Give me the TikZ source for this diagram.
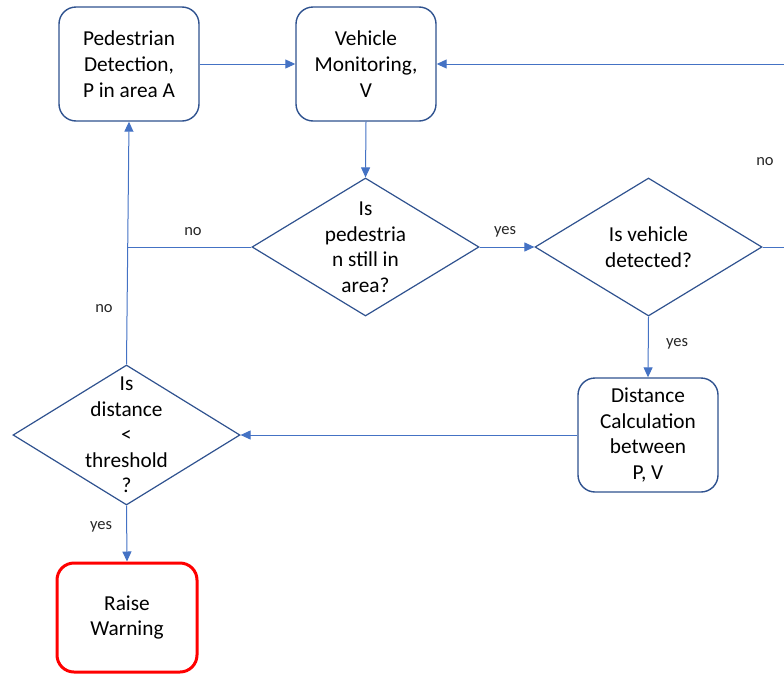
\documentclass[tikz,border=0pt]{standalone}
\usepackage{fontspec}
\setmainfont{Carlito}
\usetikzlibrary{shapes.geometric,arrows.meta}
\definecolor{boxblue}{RGB}{47,82,143}
\definecolor{linkblue}{RGB}{68,114,196}
\definecolor{warnred}{RGB}{255,0,0}
\tikzset{
  procbox/.style={draw=boxblue,line width=1.4pt,rounded corners=17pt,fill=white,
    minimum width=140pt,minimum height=114pt,align=center,inner sep=0pt,
    font=\fontsize{21.3}{25.8}\selectfont},
  warnbox/.style={procbox,draw=warnred,line width=3pt,minimum width=140pt,minimum height=109pt},
  dia/.style={draw=boxblue,line width=1.2pt,diamond,inner sep=0pt},
  diatext/.style={align=center,font=\fontsize{21.3}{25.5}\selectfont,inner sep=0pt},
  link/.style={draw=linkblue,line width=1pt},
  arr/.style={link,-{Triangle[length=10pt,width=9pt]}},
  lbl/.style={font=\fontsize{16.5}{19}\selectfont,text=black!85,inner sep=0pt}
}
\begin{document}
\begin{tikzpicture}[x=1pt,y=-1pt]
\useasboundingbox (0,0) rectangle (784,675);
% process boxes
\node[procbox] (ped) at (129,64) {Pedestrian\\Detection,\\P in area A};
\node[procbox] (veh) at (366,64) {Vehicle\\Monitoring,\\V};
\node[procbox] (dist) at (648,435) {Distance\\Calculation\\between\\P, V};
\node[warnbox] (warn) at (127,617.5) {Raise\\Warning};
% decisions
\node[dia,minimum width=227pt,minimum height=138pt] (d1) at (365.5,247) {};
\node[diatext] at (d1) {Is\\pedestria\\n still in\\area?};
\node[dia,minimum width=227pt,minimum height=138pt] (d2) at (648.5,247) {};
\node[diatext] at (d2) {Is vehicle\\detected?};
\node[dia,minimum width=227pt,minimum height=140pt] (d3) at (126.5,435) {};
\node[diatext] at (d3) {Is\\distance\\<\\threshold\\?};
% off-picture coordinates
\coordinate (r1) at (790,64);
\coordinate (r2) at (790,247);
\coordinate (j) at (127,247);
% connectors
\draw[arr] (ped.east) -- (veh.west);
\draw[arr] (r1) -- (veh.east);
\draw[arr] (veh.south) -- (d1.north);
\draw[arr] (d1.east) -- (d2.west);
\draw[link] (d1.west) -- (j);
\draw[arr] (d3.north) -- (ped.south);
\draw[link] (d2.east) -- (r2);
\draw[arr] (d2.south) -- (dist.north);
\draw[arr] (dist.west) -- (d3.east);
\draw[arr] (d3.south) -- (warn.north);
% labels
\node[lbl] at (505,232) {yes};
\node[lbl] at (193,232) {no};
\node[lbl] at (104,309) {no};
\node[lbl] at (765,162) {no};
\node[lbl] at (677,344) {yes};
\node[lbl] at (101,527) {yes};
\end{tikzpicture}
\end{document}
